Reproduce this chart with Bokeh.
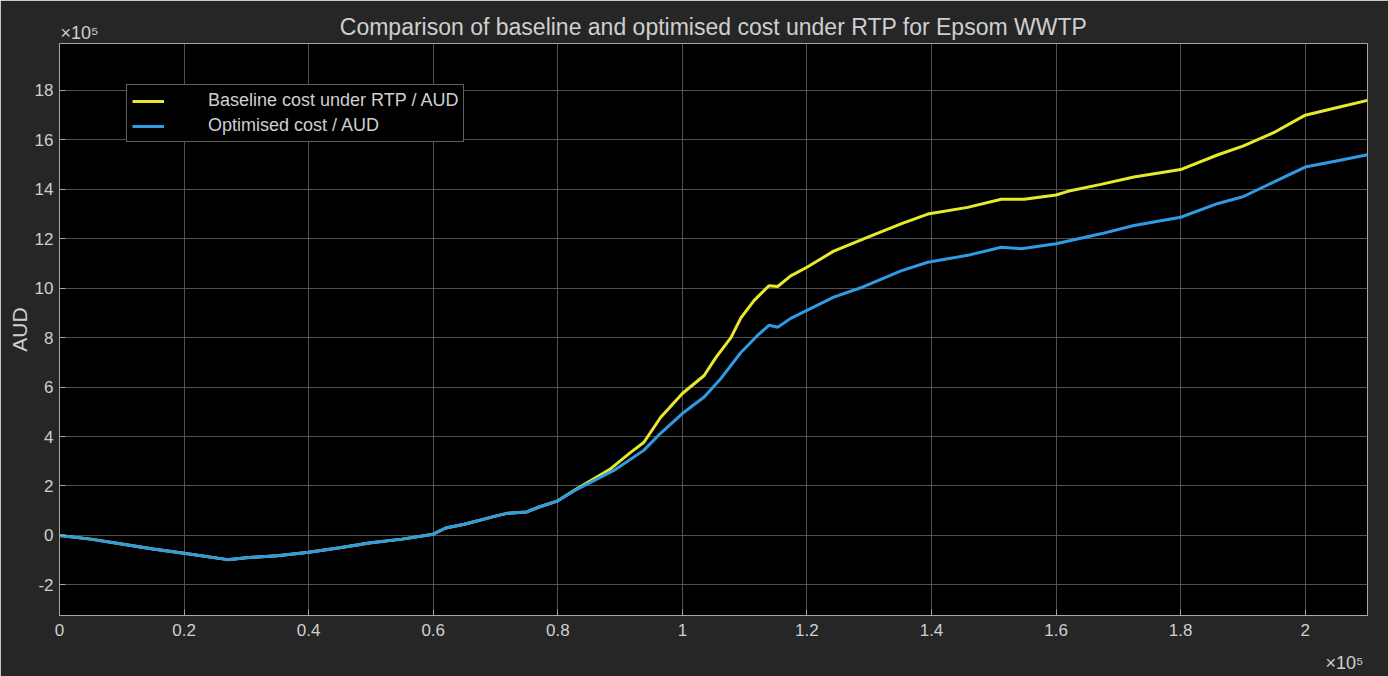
from bokeh.plotting import figure
from bokeh.models import Range1d, FixedTicker, Legend, LegendItem, Label, Title
from bokeh.embed import file_html
from bokeh.resources import INLINE

# x in units of 1e5, y in units of 1e5 AUD
x_common = [0.0, 0.05, 0.1, 0.15, 0.2, 0.27, 0.3, 0.35, 0.4, 0.45, 0.5, 0.55,
            0.6, 0.62, 0.65, 0.7, 0.72, 0.75, 0.77, 0.8]
y_common = [0.0, -0.15, -0.35, -0.55, -0.72, -0.98, -0.9, -0.82, -0.68, -0.5,
            -0.3, -0.15, 0.05, 0.3, 0.45, 0.78, 0.9, 0.95, 1.15, 1.4]

x_base = [0.826, 0.885, 0.917, 0.938, 0.965, 1.0, 1.035, 1.054, 1.078, 1.094,
          1.115, 1.139, 1.153, 1.174, 1.2, 1.243, 1.298, 1.351, 1.394, 1.458,
          1.512, 1.549, 1.6, 1.619, 1.672, 1.725, 1.8, 1.86, 1.9, 1.95, 2.0,
          2.05, 2.1]
y_base = [1.82, 2.7, 3.36, 3.76, 4.77, 5.74, 6.47, 7.2, 8.0, 8.8,
          9.5, 10.1, 10.07, 10.5, 10.85, 11.5, 12.07, 12.6, 13.0, 13.27,
          13.6, 13.6, 13.77, 13.92, 14.2, 14.5, 14.8, 15.4, 15.75, 16.3, 17.0,
          17.3, 17.6]

x_opt = [0.826, 0.89, 0.938, 0.965, 1.0, 1.035, 1.062, 1.094, 1.121, 1.139,
         1.153, 1.174, 1.2, 1.243, 1.29, 1.351, 1.394, 1.458, 1.512, 1.544,
         1.6, 1.672, 1.725, 1.8, 1.86, 1.9, 1.95, 2.0, 2.05, 2.1]
y_opt = [1.8, 2.63, 3.44, 4.13, 4.93, 5.6, 6.35, 7.4, 8.1, 8.5,
         8.42, 8.78, 9.1, 9.64, 10.05, 10.7, 11.05, 11.33, 11.66, 11.6,
         11.8, 12.2, 12.54, 12.87, 13.43, 13.7, 14.3, 14.9, 15.15, 15.4]

x_ticks = [0, 0.2, 0.4, 0.6, 0.8, 1.0, 1.2, 1.4, 1.6, 1.8, 2.0]
x_tick_labels = ["0", "0.2", "0.4", "0.6", "0.8", "1", "1.2", "1.4", "1.6", "1.8", "2"]
y_ticks = [-2, 0, 2, 4, 6, 8, 10, 12, 14, 16, 18]
y_tick_labels = ["-2", "0", "2", "4", "6", "8", "10", "12", "14", "16", "18"]

series_names = ["Baseline cost under RTP / AUD", "Optimised cost / AUD"]
title_text = "Comparison of baseline and optimised cost under RTP for Epsom WWTP"
exponent_text = "×10⁵"

FONT = "Liberation Sans"
TXT = "#cfcfcf"

p = figure(width=1388, height=676, output_backend="svg", toolbar_location=None,
           x_range=Range1d(0, 2.1), y_range=Range1d(-3.24, 19.9),
           background_fill_color="#000000", border_fill_color="#262626",
           min_border_left=59, min_border_right=21, min_border_top=43,
           min_border_bottom=61, title=None)

p.outline_line_color = "#a6a6a6"
p.outline_line_width = 1

for ax in (p.xaxis, p.yaxis):
    ax.axis_line_color = "#a6a6a6"
    ax.major_tick_line_color = "#a6a6a6"
    ax.minor_tick_line_color = None
    ax.major_tick_in = 6
    ax.major_tick_out = 0
    ax.major_label_text_font = FONT
    ax.major_label_text_font_size = "17px"
    ax.major_label_text_color = TXT
    ax.axis_label_text_font = FONT
    ax.axis_label_text_font_style = "normal"
    ax.axis_label_text_color = TXT

p.xaxis.ticker = FixedTicker(ticks=x_ticks)
p.xaxis.major_label_overrides = {t: l for t, l in zip(x_ticks, x_tick_labels)}
p.xaxis.major_label_standoff = 8
p.yaxis.ticker = FixedTicker(ticks=y_ticks)
p.yaxis.major_label_overrides = {t: l for t, l in zip(y_ticks, y_tick_labels)}
p.yaxis.major_label_standoff = 6
p.yaxis.axis_label = "AUD"
p.yaxis.axis_label_text_font_size = "21px"
p.yaxis.axis_label_standoff = 1

p.grid.grid_line_color = "#5e5e5e"
p.grid.grid_line_alpha = 0.85
p.xgrid.ticker = FixedTicker(ticks=x_ticks)
p.ygrid.ticker = FixedTicker(ticks=y_ticks)

yellow = "#e8e82c"
blue = "#2f9be4"

xb = x_common + x_base
yb = y_common + y_base
xo = x_common + x_opt
yo = y_common + y_opt

r1 = p.line(xb, yb, line_color=yellow, line_width=3)
r2 = p.line(xo, yo, line_color=blue, line_width=3)

legend = Legend(items=[LegendItem(label=series_names[0], renderers=[r1]),
                       LegendItem(label=series_names[1], renderers=[r2])],
                location=(67, 473))
legend.background_fill_color = "#000000"
legend.background_fill_alpha = 1.0
legend.border_line_color = "#bfbfbf"
legend.border_line_width = 1
legend.label_text_font = FONT
legend.label_text_font_size = "18px"
legend.label_text_color = TXT
legend.padding = 5
legend.spacing = 4
legend.glyph_width = 32
legend.glyph_height = 20
legend.label_height = 20
legend.label_standoff = 44
legend.margin = 0
p.add_layout(legend, "center")

# exponent label panel next to the frame, main title just outside it
p.add_layout(Label(x=1, y=11, x_units="screen", y_units="screen",
                   text=exponent_text, text_font=FONT,
                   text_font_size="18px", text_color=TXT,
                   text_baseline="middle", text_align="left"), "above")
p.add_layout(Title(text=title_text, align="center", text_font=FONT,
                   text_font_size="23px", text_color=TXT,
                   text_font_style="normal", standoff=-33), "above")
p.add_layout(Label(x=1304, y=-4, x_units="screen", y_units="screen",
                   text=exponent_text, text_font=FONT,
                   text_font_size="18px", text_color=TXT,
                   text_baseline="middle", text_align="right"), "below")

open("out.html", "w").write(file_html(p, INLINE))
